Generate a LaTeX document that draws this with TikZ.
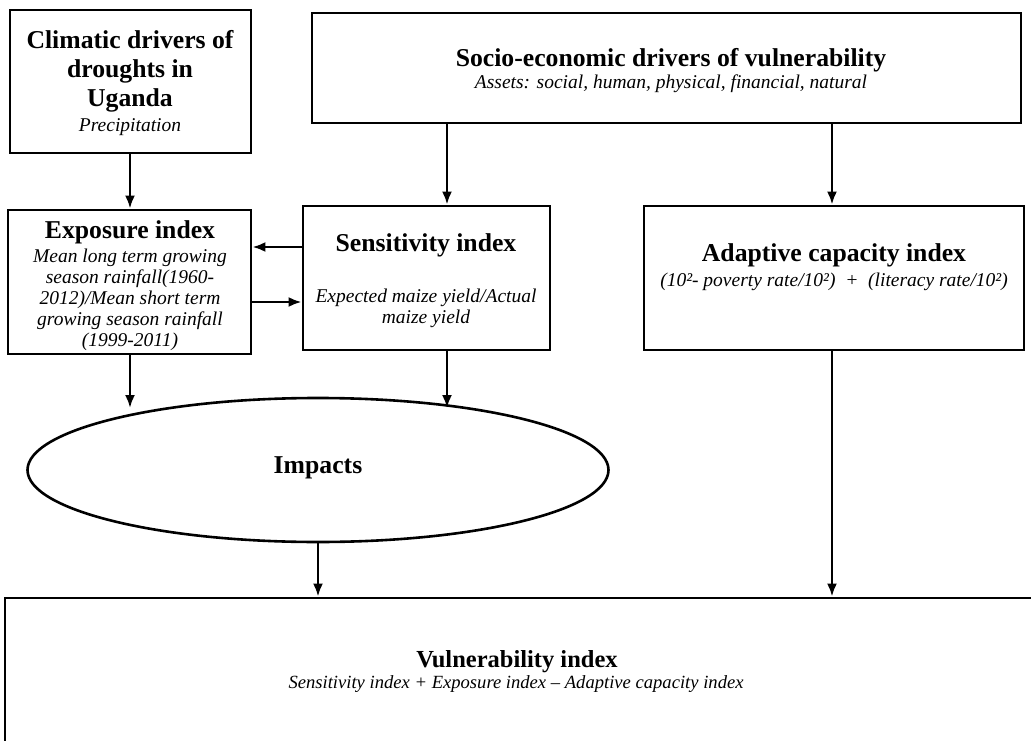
\documentclass[tikz,border=0pt]{standalone}
\usepackage{fontspec}
\setmainfont{Liberation Serif}
\usetikzlibrary{arrows.meta,shapes.geometric}
\newcommand{\hdfont}{\fontsize{25.7}{29}\selectfont\bfseries}
\newcommand{\itfont}{\fontsize{19.5}{21}\selectfont\itshape}
\newcommand{\hdsmall}{\fontsize{24.5}{28}\selectfont\bfseries}
\newcommand{\itsmall}{\fontsize{18.6}{21}\selectfont\itshape}
\begin{document}
\begin{tikzpicture}[x=1pt,y=-1pt,
  box/.style={draw,line width=2.9pt,rectangle,inner sep=0pt},
  hd/.style={inner sep=0pt,align=center,font=\hdfont},
  it/.style={inner sep=0pt,align=center,font=\itfont},
  arr/.style={line width=2.4pt,-{Latex[length=13pt,width=10pt]}}]
\useasboundingbox (0,0) rectangle (1031,741);
\clip (0,0) rectangle (1031,741);
% boxes
\node[box,minimum width=241pt,minimum height=143pt] (clim) at (130.5,81.5) {};
\node[box,minimum width=709pt,minimum height=110pt] (socio) at (666.5,68) {};
\node[box,minimum width=243pt,minimum height=144pt] (expo) at (129.5,282) {};
\node[box,minimum width=247pt,minimum height=144pt] (sens) at (426.5,278) {};
\node[box,minimum width=380pt,minimum height=144pt] (adap) at (834,278) {};
\node[draw,line width=2.6pt,ellipse,minimum width=581pt,minimum height=144pt,inner sep=0pt] (imp) at (318,470) {};
\node[box,minimum width=1040pt,minimum height=176pt] (vuln) at (525,686) {};
% texts
\node[hd] (climh) at (130,71) {Climatic drivers of\\ droughts in\\ Uganda};
\node[it] (climt) at (130,127) {Precipitation};
\node[hd] (socioh) at (671,60) {Socio-economic drivers of vulnerability};
\node[it] (sociot) at (671,84) {Assets: social, human, physical, financial, natural};
\node[hd] (expoh) at (130,232) {Exposure index};
\node[it] (expot) at (130,300) {Mean long term growing\\ season rainfall(1960-\\ 2012)/Mean short term\\ growing season rainfall\\ (1999-2011)};
\node[hd] (sensh) at (426,245) {Sensitivity index};
\node[it] (senst) at (426,308) {Expected maize yield/Actual\\ maize yield};
\node[hd] (adaph) at (834,255) {Adaptive capacity index};
\node[it] (adapt) at (834,282) {(10²- poverty rate/10²) \ + \ (literacy rate/10²)};
\node[hd] (imph) at (318,468) {Impacts};
\node[hd,font=\hdsmall] (vulnh) at (517,662) {Vulnerability index};
\node[it,font=\itsmall] (vulnt) at (516,684) {Sensitivity index + Exposure index – Adaptive capacity index};
% connector guides
\coordinate (xa) at (130,0);
\coordinate (xb) at (447,0);
\coordinate (xc) at (832,0);
\coordinate (ya) at (0,247);
\coordinate (yb) at (0,302);
\coordinate (ye) at (0,408);
% connectors
\draw[arr] (clim.south -| xa) -- (expo.north -| xa);
\draw[arr] (socio.south -| xb) -- (sens.north -| xb);
\draw[arr] (socio.south -| xc) -- (adap.north -| xc);
\draw[arr] (sens.west |- ya) -- (expo.east |- ya);
\draw[arr] (expo.east |- yb) -- (sens.west |- yb);
\draw[arr] (expo.south -| xa) -- (xa |- ye);
\draw[arr] (sens.south -| xb) -- (xb |- ye);
\draw[arr] (imp.south) -- (vuln.north -| imp.south);
\draw[arr] (adap.south -| xc) -- (vuln.north -| xc);
\end{tikzpicture}
\end{document}
